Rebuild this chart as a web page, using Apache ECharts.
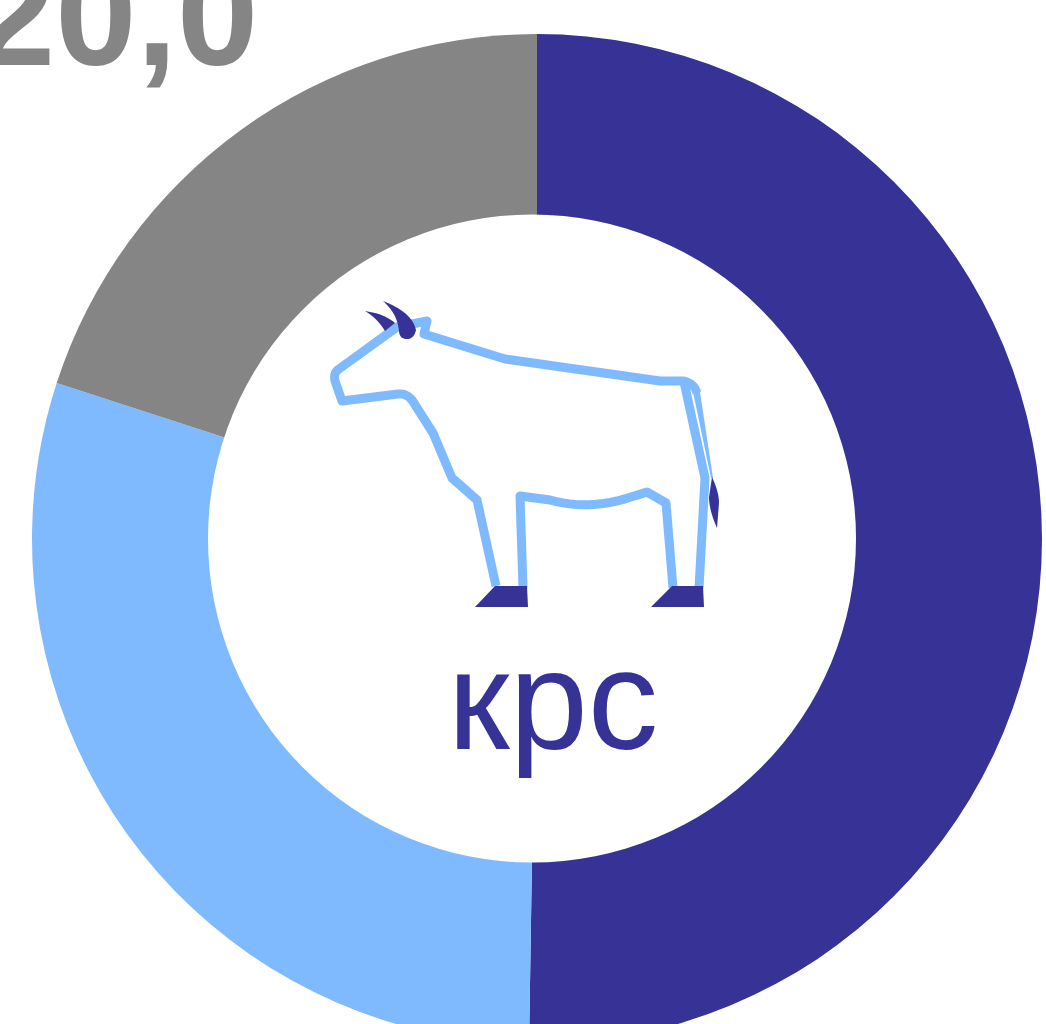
<!DOCTYPE html>
<html>
<head>
<meta charset="utf-8">
<style>html,body{margin:0;padding:0;background:#fff;overflow:hidden}#c{width:1046px;height:1024px}</style>
<script src="https://cdn.jsdelivr.net/npm/echarts@6/dist/echarts.min.js"></script>
</head>
<body>
<div id="c"></div>
<script>
const categories = ['A', 'B', 'C'];
const values = [50.25, 29.75, 20.0];
const colors = ['#373295', '#7fbaff', '#858585'];
const valueLabel = '20,0';
const centerLabel = 'крс';

const DARK = colors[0], LIGHT = colors[1];

// quadratic curve flattened to points, for the icon only
function q(a, c, b) {
  const out = [];
  for (let i = 0; i <= 10; i++) {
    const t = i / 10, u = 1 - t;
    out.push([u * u * a[0] + 2 * u * t * c[0] + t * t * b[0], u * u * a[1] + 2 * u * t * c[1] + t * t * b[1]]);
  }
  return out;
}

const outline = [
  [496, 586], [477, 500], [452, 478], [433, 433], [412, 400],
  ...q([412, 400], [406, 393], [398, 394]),
  [342, 401], [335, 381],
  ...q([335, 381], [333, 373], [339, 369]),
  [397, 327], [427, 321], [424, 334], [505, 359], [660, 381], [683, 381],
  ...q([683, 381], [694, 383], [697, 393])
];
const legBack = [[684, 382], [705, 478], [699, 588]];
const belly = [
  [673, 588], [666, 503], [647, 492],
  ...q([647, 492], [625, 499], [617, 501]),
  ...q([617, 501], [582, 509], [550, 500]),
  [520, 496], [523, 588]
];
const tail = [[693, 392], [700, 392], [713, 478], [711, 478]];
const hoofFront = [[495, 586], [527, 586], [528, 607], [475, 607]];
const hoofBack = [[672, 586], [703, 586], [704, 607], [651, 607]];
const hornBig = [
  ...q([383, 301], [412, 312], [416, 330]),
  ...q([416, 330], [414, 339], [407, 339]),
  ...q([407, 339], [400, 339], [399, 332]),
  ...q([399, 332], [398, 314], [383, 301])
];
const hornSmall = [
  ...q([365, 311], [385, 314], [395, 323]),
  ...q([385, 331], [377, 318], [365, 311])
];
const tuft = [
  ...q([712, 477], [719, 492], [719, 503]),
  [717, 528],
  ...q([717, 528], [709, 510], [709, 497])
];

const line = (pts, w) => ({ type: 'polyline', z: 20, shape: { points: pts }, style: { stroke: LIGHT, lineWidth: w, fill: null, lineJoin: 'round' } });
const blob = (pts, c) => ({ type: 'polygon', z: 21, shape: { points: pts }, style: { fill: c || DARK } });

const chart = echarts.init(document.getElementById('c'), null, { renderer: 'canvas' });
chart.setOption({
  animation: false,
  backgroundColor: '#fff',
  series: [{
    type: 'pie',
    center: [537, 539],
    radius: [0, 505],
    startAngle: 90,
    clockwise: true,
    silent: true,
    label: { show: false },
    labelLine: { show: false },
    data: categories.map((name, i) => ({ name, value: values[i], itemStyle: { color: colors[i] } }))
  }],
  graphic: [
    { type: 'circle', z: 10, shape: { cx: 532, cy: 538.5, r: 324 }, style: { fill: '#fff' } },
    line(outline, 9), line(legBack, 9), line(belly, 9), blob(tail, LIGHT),
    blob(hoofFront), blob(hoofBack), blob(hornBig), blob(hornSmall), blob(tuft),
    { type: 'text', z: 30, x: -26, y: -48, style: { text: valueLabel, fill: colors[2], font: 'bold 146px "Liberation Sans"', textAlign: 'left', textBaseline: 'alphabetic' } },
    { type: 'text', z: 30, x: 553, y: 640, style: { text: centerLabel, fill: DARK, font: '141px "Liberation Sans"', textAlign: 'center', textBaseline: 'alphabetic' } }
  ]
});
</script>
</body>
</html>
